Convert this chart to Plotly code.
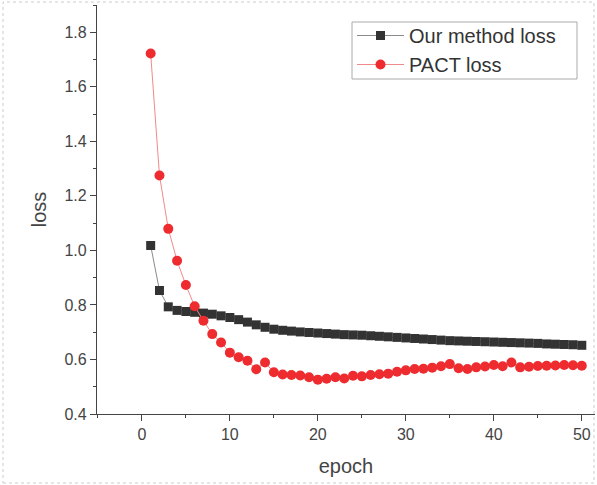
import plotly.graph_objects as go

epochs = list(range(1, 51))
our_loss = [1.018, 0.853, 0.793, 0.780, 0.776, 0.773, 0.770, 0.766, 0.760, 0.754,
            0.746, 0.737, 0.727, 0.718, 0.711, 0.707, 0.704, 0.701, 0.699, 0.697,
            0.695, 0.693, 0.691, 0.690, 0.689, 0.687, 0.685, 0.683, 0.681, 0.679,
            0.677, 0.675, 0.673, 0.671, 0.669, 0.668, 0.667, 0.666, 0.665, 0.664,
            0.663, 0.662, 0.661, 0.660, 0.659, 0.657, 0.656, 0.655, 0.654, 0.652]
pact_loss = [1.722, 1.275, 1.079, 0.962, 0.873, 0.795, 0.742, 0.693, 0.662, 0.625,
             0.608, 0.595, 0.564, 0.589, 0.553, 0.545, 0.543, 0.541, 0.535, 0.526,
             0.529, 0.535, 0.530, 0.540, 0.538, 0.543, 0.546, 0.548, 0.555, 0.560,
             0.565, 0.566, 0.570, 0.575, 0.583, 0.568, 0.565, 0.571, 0.574, 0.580,
             0.575, 0.589, 0.571, 0.573, 0.576, 0.577, 0.578, 0.580, 0.579, 0.577]

W, H = 597, 485
ML, MR, MT, MB = 97, 2, 5, 71
PW, PH = W - ML - MR, H - MT - MB

def px_to_paper_x(px):
    return (px - ML) / PW

def px_to_paper_y(py):
    return (H - MB - py) / PH

fig = go.Figure()
fig.add_trace(go.Scatter(
    x=epochs, y=our_loss, mode="lines+markers", name="Our method loss",
    line=dict(color="#8a8a8a", width=1),
    marker=dict(symbol="square", size=9, color="#333333"),
))
fig.add_trace(go.Scatter(
    x=epochs, y=pact_loss, mode="lines+markers", name="PACT loss",
    line=dict(color="#f08a8a", width=1),
    marker=dict(symbol="circle", size=10, color="#ee2b2f"),
))

axis_font = dict(family="Liberation Sans, Arial, sans-serif", size=16, color="#444444")
title_font = dict(family="Liberation Sans, Arial, sans-serif", size=20, color="#444444")

fig.update_layout(
    width=W, height=H,
    margin=dict(l=ML, r=MR, t=MT, b=MB),
    paper_bgcolor="white", plot_bgcolor="white",
    showlegend=True,
    legend=dict(
        x=px_to_paper_x(352), y=px_to_paper_y(16), xanchor="left", yanchor="top",
        borderwidth=0, bgcolor="rgba(0,0,0,0)",
        font=dict(family="Liberation Sans, Arial, sans-serif", size=20, color="#333333"),
        tracegroupgap=0, itemwidth=47,
    ),
    xaxis=dict(
        range=[-5.1, 51.5], tickmode="linear", tick0=0, dtick=10,
        ticks="outside", ticklen=6, tickwidth=1.2, tickcolor="#444444",
        minor=dict(dtick=5, tick0=0, ticks="outside", ticklen=3, tickcolor="#444444"),
        showline=True, linecolor="#444444", linewidth=1.2, showgrid=False, zeroline=False,
        tickfont=axis_font,
        title=dict(text="epoch", font=title_font, standoff=16),
    ),
    yaxis=dict(
        range=[0.4, 1.9], tickmode="linear", tick0=0.4, dtick=0.2, tickformat=".1f",
        ticks="outside", ticklen=6, tickwidth=1.2, tickcolor="#444444",
        minor=dict(dtick=0.1, ticks="outside", ticklen=3, tickcolor="#444444"),
        showline=True, linecolor="#444444", linewidth=1.2, showgrid=False, zeroline=False,
        tickfont=axis_font,
        title=dict(text="loss", font=title_font, standoff=12),
    ),
    shapes=[
        dict(
            type="rect", xref="paper", yref="paper",
            x0=px_to_paper_x(3), x1=px_to_paper_x(594),
            y0=px_to_paper_y(483), y1=px_to_paper_y(2),
            line=dict(color="#cccccc", width=1, dash="dot"),
            fillcolor="rgba(0,0,0,0)", layer="below",
        ),
        dict(
            type="rect", xref="paper", yref="paper",
            x0=px_to_paper_x(352), x1=px_to_paper_x(577),
            y0=px_to_paper_y(79), y1=px_to_paper_y(22),
            line=dict(color="#aaaaaa", width=1),
            fillcolor="white", layer="below",
        ),
    ],
)

fig.write_html("out.html")
